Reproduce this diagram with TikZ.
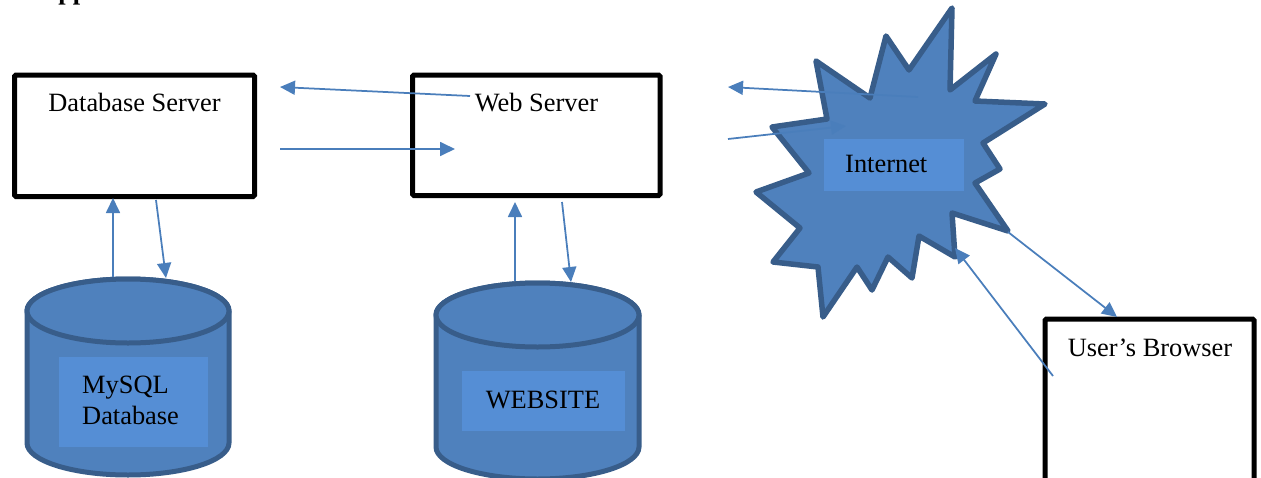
\documentclass[tikz,border=0pt]{standalone}
\usepackage{fontspec}
\setmainfont{Liberation Serif}
\usetikzlibrary{arrows.meta}
\definecolor{starfill}{RGB}{79,129,189}
\definecolor{starline}{RGB}{56,93,138}
\definecolor{innerfill}{RGB}{85,142,213}
\definecolor{arrowblue}{RGB}{74,126,187}
\begin{document}
\begin{tikzpicture}[x=1pt,y=-1pt,
  srvbox/.style={draw=black, line width=5pt, rounded corners=1.5pt, fill=white, inner sep=0pt},
  lbl/.style={font=\fontsize{26.4}{31}\selectfont, inner sep=0pt, text=black},
  flow/.style={draw=arrowblue, line width=1.75pt, -{Triangle[length=15pt,width=14pt]}},
  cyl/.style={fill=starfill, draw=starline, line width=5pt},
  innerbox/.style={fill=innerfill, draw=none, inner sep=0pt},
  burst/.style={fill=starfill, draw=starline, line width=5.5pt, line join=round},
]
\useasboundingbox (0,0) rectangle (1261,477);
\clip (0,0) rectangle (1261,477);

% cropped heading
\node[font=\bfseries\fontsize{26.4}{31}\selectfont, anchor=base west, inner sep=0pt] (heading) at (39,-0.5) {App};

% server boxes
\node[srvbox, minimum width=240pt, minimum height=121.5pt] (dbs) at (134.5,135.75) {};
\node[lbl, anchor=base] (dbslbl) at (134.5,111.7) {Database Server};
\node[srvbox, minimum width=247.5pt, minimum height=120.5pt] (web) at (536.25,135.25) {};
\node[lbl, anchor=base] (weblbl) at (536.5,111.5) {Web Server};
\node[srvbox, minimum width=209pt, minimum height=201pt] (brw) at (1149.5,419.5) {};
\node[lbl, anchor=base] (brwlbl) at (1150,356) {User’s Browser};

% MySQL cylinder
\path[cyl] (27,311) -- (27,443) arc[start angle=180,end angle=360,x radius=101pt,y radius=32pt]
  -- (229,311) arc[start angle=0,end angle=180,x radius=101pt,y radius=32pt] -- cycle;
\draw[cyl] (128,311) ellipse[x radius=101pt, y radius=32pt];
\node[innerbox, minimum width=149pt, minimum height=90pt] (mysqlrect) at (133.5,402) {};
\node[lbl, anchor=base west] (mysql1) at (82,393.3) {MySQL};
\node[lbl, anchor=base west] (mysql2) at (82,424) {Database};

% Website cylinder
\path[cyl] (436,315) -- (436,447) arc[start angle=180,end angle=360,x radius=101.5pt,y radius=32pt]
  -- (639,315) arc[start angle=0,end angle=180,x radius=101.5pt,y radius=32pt] -- cycle;
\draw[cyl] (537.5,315) ellipse[x radius=101.5pt, y radius=32pt];
\node[innerbox, minimum width=163pt, minimum height=60pt] (siterect) at (543.5,401) {};
\node[lbl, anchor=base] (sitelbl) at (543,408.3) {WEBSITE};

% Internet burst
\draw[burst] (952,8) -- (950,90) -- (996,54) -- (975,101) -- (1045,104) -- (983,143)
  -- (1000,169) -- (975,183) -- (1008,231) -- (952,213) -- (955,257) -- (919,236)
  -- (912,278) -- (888,257) -- (872,290) -- (857,267) -- (823,317) -- (818,267)
  -- (773,262) -- (800,228) -- (756,192) -- (809,173) -- (772,127) -- (827,119)
  -- (816,61) -- (870,98) -- (886,36) -- (909,70) -- cycle;
\node[innerbox, minimum width=140pt, minimum height=52pt] (netrect) at (894,165) {};
\node[lbl, anchor=base west] (netlbl) at (845,172.7) {Internet};

% connector end points
\coordinate (a1s) at (470,96);   \coordinate (a1e) at (280,87);
\coordinate (a2s) at (280,149);  \coordinate (a2e) at (455,149);
\coordinate (a3s) at (918,97);   \coordinate (a3e) at (728,87);
\coordinate (a4s) at (728,139);  \coordinate (a4e) at (846,126);
\coordinate (a5s) at (1008,232); \coordinate (a5e) at (1117,317);
\coordinate (a6s) at (1053,376); \coordinate (a6e) at (955,248);
\coordinate (a7s) at (113,277);  \coordinate (a7e) at (113,198);
\coordinate (a8s) at (156,200);  \coordinate (a8e) at (166,278);
\coordinate (a9s) at (515,281);  \coordinate (a9e) at (515,202);
\coordinate (a10s) at (562,202); \coordinate (a10e) at (571,282);

\draw[flow] (a1s) -- (a1e);
\draw[flow] (a2s) -- (a2e);
\draw[flow] (a3s) -- (a3e);
\draw[flow] (a4s) -- (a4e);
\draw[flow] (a5s) -- (a5e);
\draw[flow] (a6s) -- (a6e);
\draw[flow] (a7s) -- (a7e);
\draw[flow] (a8s) -- (a8e);
\draw[flow] (a9s) -- (a9e);
\draw[flow] (a10s) -- (a10e);
\end{tikzpicture}
\end{document}
